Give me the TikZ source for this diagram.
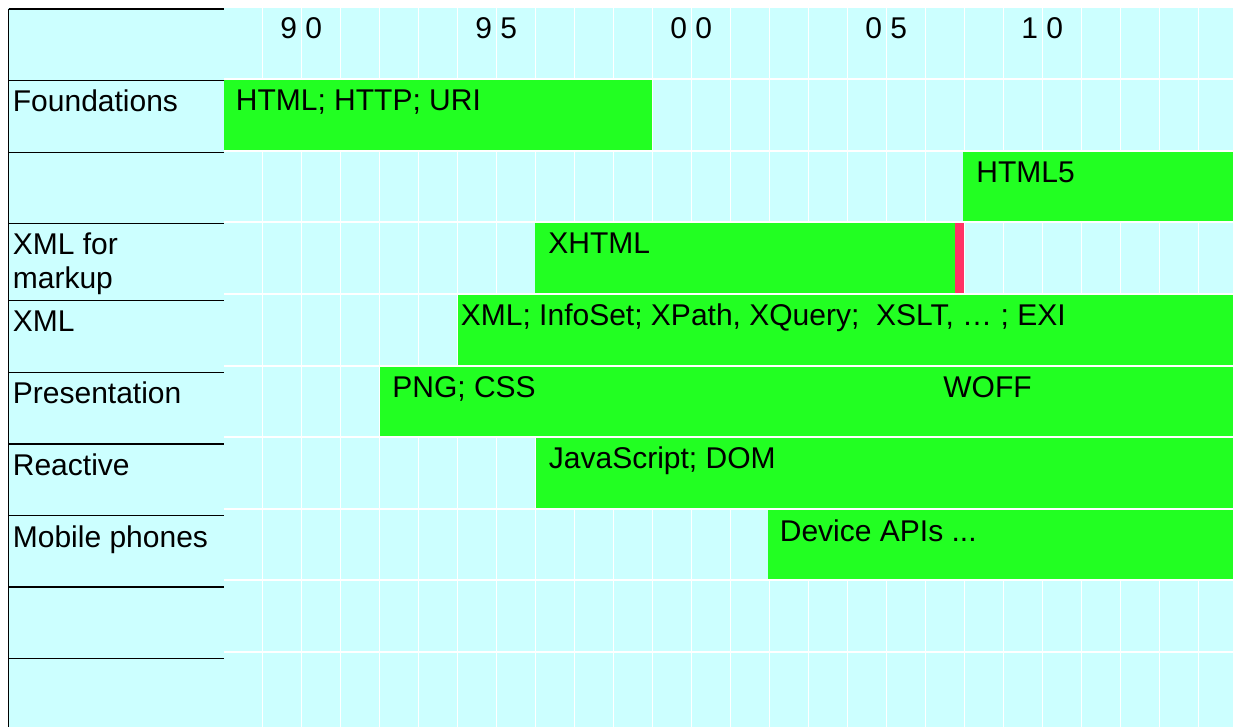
\documentclass[tikz,border=0pt]{standalone}
\usepackage{fontspec}
\setmainfont{Liberation Sans}
\definecolor{gridcyan}{HTML}{CCFFFF}
\definecolor{bargreen}{HTML}{22FF22}
\definecolor{barred}{HTML}{FF3366}
\begin{document}
\begin{tikzpicture}[x=0.5pt,y=-0.5pt,
  txt/.style={inner sep=0pt,font=\fontsize{15}{17}\selectfont},
  lbl/.style={txt,anchor=base west,align=left},
  yr/.style={txt,anchor=base},
  bar/.style={fill=bargreen},
  gridline/.style={white,line width=0.6pt},
  rule/.style={black,line width=0.6pt}]
  \useasboundingbox (0,0) rectangle (1233,727);
  \fill[gridcyan] (8,8) rectangle (1233,727);
  \foreach \k in {0,...,24}
    \draw[gridline] ({262.3+39*\k},8) -- ({262.3+39*\k},727);
  \fill[bar] (224,79) rectangle (652.3,151);
  \fill[bar] (963.3,151) rectangle (1233,222);
  \fill[bar] (535.3,222) rectangle (954.5,294);
  \fill[barred] (954.5,222) rectangle (963.8,294);
  \fill[bar] (457.5,294) rectangle (1233,366);
  \fill[bar] (379.6,366) rectangle (1233,437);
  \fill[bar] (535.5,437) rectangle (1233,509);
  \fill[bar] (768,509) rectangle (1233,580);
  \foreach \y in {79,151,222,294,366,437,509,580,652}
    \draw[gridline] (224,\y) -- (1233,\y);
  \draw[rule] (8.5,9) -- (8.5,727);
  \foreach \y in {9,80.7,152.3,223.5,300.5,372.5,444,515.5,587,658.5}
    \draw[rule] (8.5,\y) -- (224,\y);

  \node[yr] (y90) at (301.3,39) {9 0};
  \node[yr] (y95) at (496.3,39) {9 5};
  \node[yr] (y00) at (691.3,39) {0 0};
  \node[yr] (y05) at (886.3,39) {0 5};
  \node[yr] (y10) at (1042.3,39) {1 0};

  \node[lbl] (foundations) at (12.5,111.5) {Foundations};
  \node[lbl] (xmlmarkup) at (12.5,288.5) {XML for\\markup};
  \node[lbl] (xml) at (12.5,331.5) {XML};
  \node[lbl] (presentation) at (12.5,403.5) {Presentation};
  \node[lbl] (reactive) at (12.5,475) {Reactive};
  \node[lbl] (mobile) at (12.5,547) {Mobile phones};

  \node[lbl] (html) at (235.5,111) {HTML; HTTP; URI};
  \node[lbl] (html5) at (976,182.5) {HTML5};
  \node[lbl] (xhtml) at (548,254) {XHTML};
  \node[lbl] (xmlstack) at (460.5,326) {XML; InfoSet; XPath, XQuery;\ \ XSLT, … ; EXI};
  \node[lbl] (pngcss) at (392,397.5) {PNG; CSS};
  \node[lbl] (woff) at (943,397.5) {WOFF};
  \node[lbl] (js) at (548.5,469) {JavaScript; DOM};
  \node[lbl] (device) at (779.5,541) {Device APIs ...};
\end{tikzpicture}
\end{document}
